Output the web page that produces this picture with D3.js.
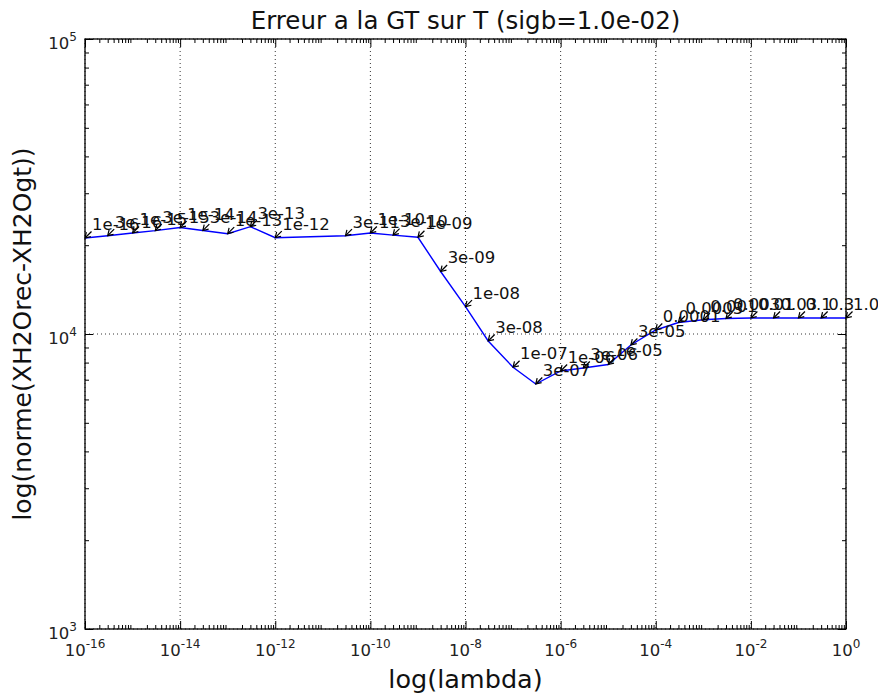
<!DOCTYPE html>
<html><head><meta charset="utf-8">
<script src="https://cdn.jsdelivr.net/npm/d3@7"></script>
<style>body{margin:0;background:#fff}svg{display:block;font-family:"DejaVu Sans",sans-serif}</style>
</head><body><svg id="c" width="878" height="695"></svg>
<script>
const lambdas = [1e-16,3e-16,1e-15,3e-15,1e-14,3e-14,1e-13,3e-13,1e-12,3e-11,1e-10,3e-10,1e-9,3e-9,1e-8,3e-8,1e-7,3e-7,1e-6,3e-6,1e-5,3e-5,1e-4,3e-4,1e-3,3e-3,0.01,0.03,0.1,0.3,1.0];
const lambdaLabels = ["1e-16","3e-16","1e-15","3e-15","1e-14","3e-14","1e-13","3e-13","1e-12","3e-11","1e-10","3e-10","1e-09","3e-09","1e-08","3e-08","1e-07","3e-07","1e-06","3e-06","1e-05","3e-05","0.0001","0.0003","0.001","0.003","0.01","0.03","0.1","0.3","1.0"];
const errors = [21160,21540,22000,22400,22950,22420,21880,23110,21210,21540,22000,21640,21280,16290,12380,9470,7713,6768,7494,7669,7882,9178,10320,10940,11180,11290,11330,11330,11330,11330,11330];
const xTickExps = [-16,-14,-12,-10,-8,-6,-4,-2,0];
const yTickExps = [3,4,5];
const titleText = "Erreur a la GT sur T (sigb=1.0e-02)";
const xLabel = "log(lambda)";
const yLabel = "log(norme(XH2Orec-XH2Ogt))";

const L=85,R=846,T=39,B=629;
const svg=d3.select("#c");
const x=d3.scaleLog().domain([1e-16,1]).range([L,R]);
const y=d3.scaleLog().domain([1e3,1e5]).range([B,T]);

// minor ticks
const xMinor=[],yMinor=[];
for(let e=-16;e<0;e++) for(let k=2;k<10;k++) xMinor.push(k*Math.pow(10,e));
for(let e=3;e<5;e++) for(let k=2;k<10;k++) yMinor.push(k*Math.pow(10,e));
const xMaj=xTickExps.map(e=>Math.pow(10,e)), yMaj=yTickExps.map(e=>Math.pow(10,e));

// grid
const g=svg.append("g");
g.selectAll(".gx").data(xMaj).join("line").attr("x1",d=>x(d)).attr("x2",d=>x(d)).attr("y1",T).attr("y2",B)
 .attr("stroke","#000").attr("stroke-width",0.8).attr("stroke-dasharray","1,3");
g.selectAll(".gy").data(yMaj).join("line").attr("y1",d=>y(d)).attr("y2",d=>y(d)).attr("x1",L).attr("x2",R)
 .attr("stroke","#000").attr("stroke-width",0.8).attr("stroke-dasharray","1,3");

// axes (inward ticks on all sides)
function styleAxis(sel){sel.select(".domain").remove();sel.selectAll("line").attr("stroke","#000");sel.selectAll("text").remove();}
svg.append("g").attr("transform",`translate(0,${B})`).call(d3.axisBottom(x).tickValues(xMaj).tickSize(-8)).call(styleAxis);
svg.append("g").attr("transform",`translate(0,${B})`).call(d3.axisBottom(x).tickValues(xMinor).tickSize(-4)).call(styleAxis);
svg.append("g").attr("transform",`translate(0,${T})`).call(d3.axisTop(x).tickValues(xMaj).tickSize(-8)).call(styleAxis);
svg.append("g").attr("transform",`translate(0,${T})`).call(d3.axisTop(x).tickValues(xMinor).tickSize(-4)).call(styleAxis);
svg.append("g").attr("transform",`translate(${L},0)`).call(d3.axisLeft(y).tickValues(yMaj).tickSize(-8)).call(styleAxis);
svg.append("g").attr("transform",`translate(${L},0)`).call(d3.axisLeft(y).tickValues(yMinor).tickSize(-4)).call(styleAxis);
svg.append("g").attr("transform",`translate(${R},0)`).call(d3.axisRight(y).tickValues(yMaj).tickSize(-8)).call(styleAxis);
svg.append("g").attr("transform",`translate(${R},0)`).call(d3.axisRight(y).tickValues(yMinor).tickSize(-4)).call(styleAxis);

// tick labels with superscripts
xTickExps.forEach(e=>{
  const t=svg.append("text").attr("x",x(Math.pow(10,e))).attr("y",656).attr("text-anchor","middle").attr("font-size",16.5).attr("fill","#222");
  t.append("tspan").text("10");
  t.append("tspan").attr("dy",-8).attr("font-size",12).text(e<0?"-"+(-e):String(e));
});
yTickExps.forEach(e=>{
  const t=svg.append("text").attr("x",77).attr("y",y(Math.pow(10,e))+10).attr("text-anchor","end").attr("font-size",16.5).attr("fill","#222");
  t.append("tspan").text("10");
  t.append("tspan").attr("dy",-8).attr("font-size",12).text(String(e));
});

// line
const data=lambdas.map((l,i)=>({l,v:errors[i],lab:lambdaLabels[i]}));
svg.append("path").datum(data).attr("fill","none").attr("stroke","#0000ff").attr("stroke-width",1.4)
 .attr("d",d3.line().x(d=>x(d.l)).y(d=>y(d.v)));

// annotations
const an=svg.append("g");
data.forEach(d=>{
  const px=x(d.l),py=y(d.v);
  const sx=px+6.5,sy=py-6.5;
  an.append("line").attr("x1",sx).attr("y1",sy).attr("x2",px+0.5).attr("y2",py-0.5).attr("stroke","#000").attr("stroke-width",1.2);
  const ang=Math.atan2(py-sy,px-sx);
  const hl=6,ha=0.55;
  const p1=[px-hl*Math.cos(ang-ha),py-hl*Math.sin(ang-ha)];
  const p2=[px-hl*Math.cos(ang+ha),py-hl*Math.sin(ang+ha)];
  an.append("path").attr("d",`M${p1[0]},${p1[1]}L${px},${py}L${p2[0]},${p2[1]}`).attr("fill","none").attr("stroke","#000").attr("stroke-width",1.2);
  an.append("text").attr("x",px+7).attr("y",py-8).attr("font-size",16.5).attr("fill","#111").text(d.lab);
});

// frame
svg.append("rect").attr("x",L).attr("y",T).attr("width",R-L).attr("height",B-T).attr("fill","none").attr("stroke","#000").attr("stroke-width",1.3);

// titles
svg.append("text").attr("x",(L+R)/2).attr("y",29).attr("text-anchor","middle").attr("font-size",24.5).attr("fill","#111").text(titleText);
svg.append("text").attr("x",(L+R)/2).attr("y",688).attr("text-anchor","middle").attr("font-size",25.5).attr("fill","#111").text(xLabel);
svg.append("text").attr("transform",`translate(31,${(T+B)/2}) rotate(-90)`).attr("text-anchor","middle").attr("font-size",25).attr("fill","#111").text(yLabel);
</script></body></html>
